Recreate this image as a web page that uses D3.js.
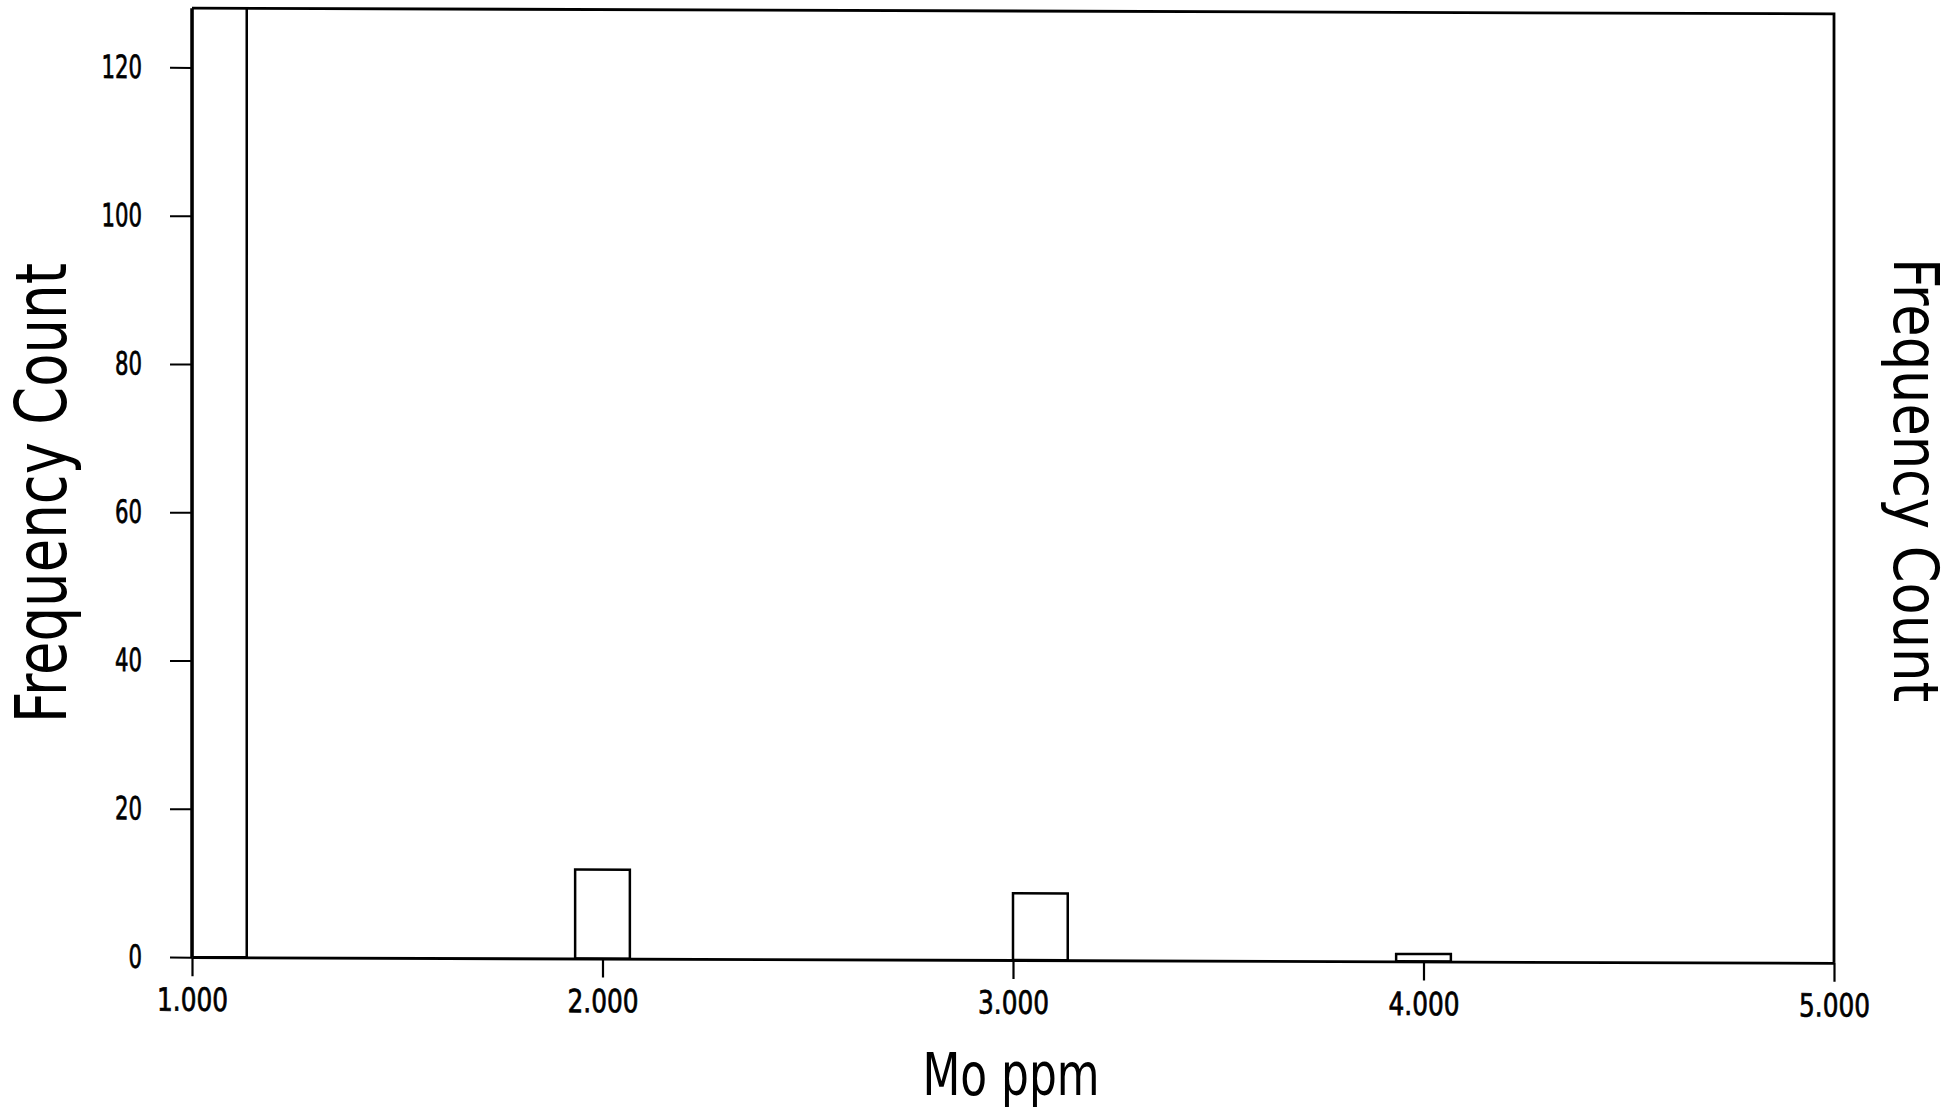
<!DOCTYPE html>
<html>
<head>
<meta charset="utf-8">
<script src="https://cdn.jsdelivr.net/npm/d3@7"></script>
<style>
  html, body { margin: 0; padding: 0; background: #fff; }
  svg { display: block; }
  text { font-family: "Liberation Sans Narrow", "DejaVu Sans Condensed", "DejaVu Sans", sans-serif; fill: #000; }
</style>
</head>
<body>
<script>
// Histogram of Mo (ppm): 30 equal bins spanning 1.000 – 5.000
const binCount = 30;
const xDomain = [1, 5];
const binIndex = [0, 7, 15, 22];       // occupied bins
const counts   = [140, 12, 9, 1];      // first bin runs off the top of the frame
const yTicks   = [0, 20, 40, 60, 80, 100, 120];
const xTicks   = [1, 2, 3, 4, 5];
const yTop     = 128;                  // value at the top edge of the frame

const W = 1959, H = 1116;
const svg = d3.select("body").append("svg").attr("width", W).attr("height", H);

const x = d3.scaleLinear().domain(xDomain).range([192, 1834]);
const y = d3.scaleLinear().domain([0, yTop]).range([960, 11]);
const binW = (xDomain[1] - xDomain[0]) / binCount;

// plotted sheet drifts slightly downward to the right
const g = svg.append("g").attr("transform", "translate(1012,485) skewY(0.2) translate(-1012,-485)");

g.append("clipPath").attr("id", "plot")
  .append("rect").attr("x", x(1)).attr("y", y(yTop)).attr("width", x(5) - x(1)).attr("height", y(0) - y(yTop));

// bars
g.append("g").attr("clip-path", "url(#plot)")
  .selectAll("rect").data(binIndex.map((b, i) => ({ lo: xDomain[0] + b * binW, hi: xDomain[0] + (b + 1) * binW, n: counts[i] })))
  .join("rect")
  .attr("x", d => x(d.lo))
  .attr("y", d => y(d.n))
  .attr("width", d => x(d.hi) - x(d.lo))
  .attr("height", d => y(0) - y(d.n))
  .attr("fill", "none").attr("stroke", "#000").attr("stroke-width", 2.5);

// frame: top and right edges
g.append("path")
  .attr("d", `M${x(1)},${y(yTop)}H${x(5)}V${y(0)}`)
  .attr("fill", "none").attr("stroke", "#000").attr("stroke-width", 2.8);

// y axis
const yAxis = g.append("g").attr("transform", `translate(${x(1)},0)`)
  .call(d3.axisLeft(y).tickValues(yTicks).tickSize(22).tickSizeOuter(0).tickPadding(28).tickFormat(d3.format("d")));
yAxis.select(".domain").attr("stroke-width", 3.5).attr("d", `M0,${y(yTop)}V${y(0)}`);
yAxis.selectAll(".tick line").attr("stroke-width", 2);
yAxis.selectAll(".tick text")
  .attr("font-size", 32).attr("font-family", null)
  .attr("stroke", "#000").attr("stroke-width", 0.7)
  .attr("textLength", function () { return this.textContent.length * 13.5; })
  .attr("lengthAdjust", "spacingAndGlyphs");

// x axis
const xAxis = g.append("g").attr("transform", `translate(0,${y(0)})`)
  .call(d3.axisBottom(x).tickValues(xTicks).tickSize(19).tickSizeOuter(0).tickPadding(12).tickFormat(d3.format(".3f")));
xAxis.select(".domain").attr("stroke-width", 2.8);
xAxis.selectAll(".tick line").attr("stroke-width", 2.2);
xAxis.selectAll(".tick text")
  .attr("font-size", 32).attr("font-family", null)
  .attr("stroke", "#000").attr("stroke-width", 0.7)
  .attr("textLength", 71).attr("lengthAdjust", "spacingAndGlyphs");

// axis titles
svg.append("text")
  .attr("transform", "translate(66,493) rotate(-90)")
  .attr("text-anchor", "middle").attr("font-size", 71)
  .attr("textLength", 460).attr("lengthAdjust", "spacingAndGlyphs")
  .text("Frequency Count");

svg.append("text")
  .attr("transform", "translate(1894,480) rotate(90)")
  .attr("text-anchor", "middle").attr("font-size", 63)
  .attr("textLength", 444).attr("lengthAdjust", "spacingAndGlyphs")
  .text("Frequency Count");

svg.append("text")
  .attr("x", 1011).attr("y", 1095)
  .attr("text-anchor", "middle").attr("font-size", 58)
  .attr("textLength", 177).attr("lengthAdjust", "spacingAndGlyphs")
  .text("Mo ppm");
</script>
</body>
</html>
